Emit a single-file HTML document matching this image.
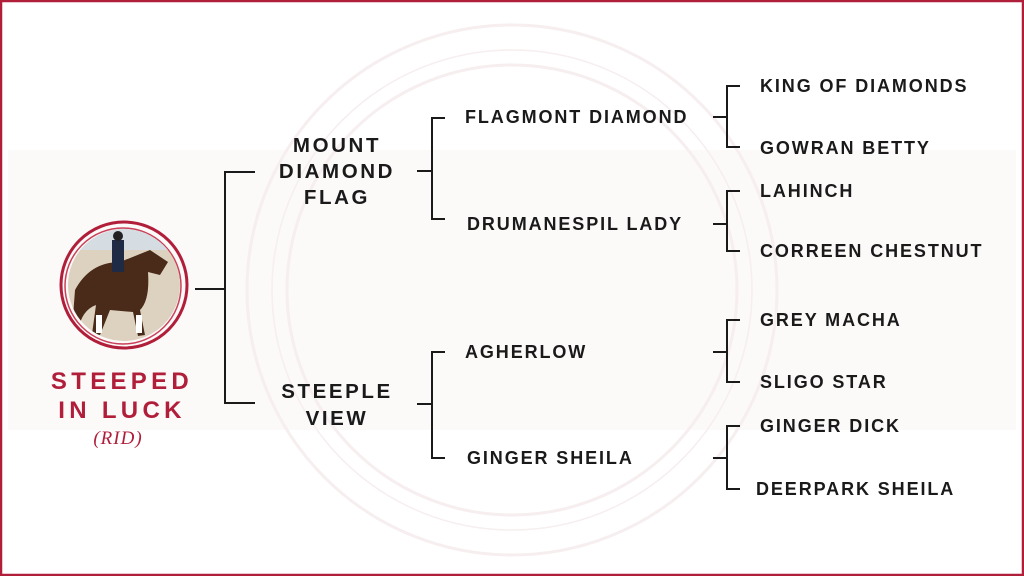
<!DOCTYPE html>
<html><head><meta charset="utf-8"><style>
html,body{margin:0;padding:0;background:#fff}
svg{display:block}
.t{font-family:"Liberation Sans",sans-serif;font-weight:bold;fill:#1a1a1a;letter-spacing:1.9px;font-size:18px}
.g1{font-size:20.5px;letter-spacing:2.6px}
.red{fill:#b01e3a;font-size:24px;letter-spacing:4.3px;font-family:"Liberation Sans",sans-serif;font-weight:bold}
</style></head><body>
<svg width="1024" height="576" viewBox="0 0 1024 576" xmlns="http://www.w3.org/2000/svg">
<rect x="1" y="1" width="1022" height="574" fill="#fff" stroke="#b01e3a" stroke-width="2.5"/>
<g fill="none" stroke="#f6eeef" stroke-width="3">
<rect x="8" y="150" width="1008" height="280" fill="#fcf9f9" stroke="none"/>
<circle cx="512" cy="290" r="265"/>
<circle cx="512" cy="290" r="225"/>
<circle cx="512" cy="290" r="240" stroke-width="1.5"/>
</g>
<g stroke="#1a1a1a" stroke-width="2" fill="none">
<path d="M195 289H225M255 172H225V403H255"/>
<path d="M417 171H432M445 118H432V219H445"/>
<path d="M417 404H432M445 352H432V458H445"/>
<path d="M713 117H727M740 86H727V147H740"/>
<path d="M713 224H727M740 191H727V251H740"/>
<path d="M713 352H727M740 320H727V382H740"/>
<path d="M713 458H727M740 426H727V489H740"/>
</g>
<circle cx="124" cy="285" r="63" fill="none" stroke="#b01e3a" stroke-width="3"/>
<circle cx="123" cy="286" r="58" fill="none" stroke="#c94058" stroke-width="1.5"/>
<clipPath id="c"><circle cx="124" cy="285" r="56"/></clipPath>
<g clip-path="url(#c)">
<rect x="60" y="220" width="130" height="130" fill="#ddd2c0"/>
<rect x="60" y="225" width="130" height="25" fill="#d5dde2"/>
<path d="M75 290Q90 262 120 262L150 250L168 262L160 275L148 272Q150 300 140 310L145 335L138 336L133 312L110 310L100 335L92 334L96 305Q82 310 78 330L72 330Z" fill="#4a2a18"/>
<rect x="112" y="240" width="12" height="32" fill="#1f2a44"/>
<circle cx="118" cy="236" r="5" fill="#222"/>
<rect x="96" y="315" width="6" height="18" fill="#fff"/>
<rect x="136" y="315" width="6" height="18" fill="#fff"/>
</g>
<text class="red" x="122" y="389" text-anchor="middle">STEEPED</text>
<text class="red" x="122" y="418" text-anchor="middle">IN LUCK</text>
<text x="118" y="444" text-anchor="middle" font-family="Liberation Serif,serif" font-style="italic" font-size="19" fill="#b01e3a" letter-spacing="1">(RID)</text>
<text class="t g1" x="337" y="152" text-anchor="middle">MOUNT</text>
<text class="t g1" x="337" y="178" text-anchor="middle">DIAMOND</text>
<text class="t g1" x="337" y="204" text-anchor="middle">FLAG</text>
<text class="t g1" x="337" y="398" text-anchor="middle">STEEPLE</text>
<text class="t g1" x="337" y="425" text-anchor="middle">VIEW</text>
<text class="t" x="465" y="123">FLAGMONT DIAMOND</text>
<text class="t" x="467" y="230">DRUMANESPIL LADY</text>
<text class="t" x="465" y="358">AGHERLOW</text>
<text class="t" x="467" y="464">GINGER SHEILA</text>
<text class="t" x="760" y="92">KING OF DIAMONDS</text>
<text class="t" x="760" y="154">GOWRAN BETTY</text>
<text class="t" x="760" y="197">LAHINCH</text>
<text class="t" x="760" y="257">CORREEN CHESTNUT</text>
<text class="t" x="760" y="326">GREY MACHA</text>
<text class="t" x="760" y="388">SLIGO STAR</text>
<text class="t" x="760" y="432">GINGER DICK</text>
<text class="t" x="756" y="495">DEERPARK SHEILA</text>
</svg>
</body></html>
